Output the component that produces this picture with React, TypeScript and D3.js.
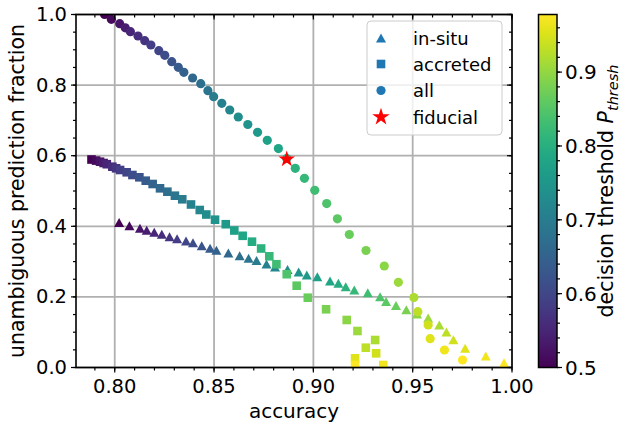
import React from 'react';
import * as d3 from 'd3';

// decision thresholds (shared by all three series)
const thresholds = [0.500, 0.512, 0.525, 0.537, 0.549, 0.562, 0.574, 0.586, 0.598, 0.611,
  0.623, 0.635, 0.648, 0.660, 0.672, 0.685, 0.697, 0.709, 0.722, 0.734,
  0.746, 0.758, 0.771, 0.783, 0.795, 0.808, 0.820, 0.832, 0.845, 0.857,
  0.869, 0.882, 0.894, 0.906, 0.918, 0.931, 0.943, 0.955, 0.968, 0.980];

const insituAcc = [0.8022, 0.8074, 0.8127, 0.8161, 0.8199, 0.8237, 0.8276, 0.8314, 0.8359, 0.8394,
  0.8438, 0.8480, 0.8512, 0.8572, 0.8629, 0.8674, 0.8714, 0.8764, 0.8807, 0.8870,
  0.8926, 0.8967, 0.9020, 0.9084, 0.9126, 0.9163, 0.9206, 0.9274, 0.9336, 0.9366,
  0.9416, 0.9468, 0.9522, 0.9578, 0.9634, 0.9670, 0.9705, 0.9764, 0.9868, 0.9960];
const insituFrac = [0.4108, 0.4017, 0.3943, 0.3887, 0.3830, 0.3773, 0.3705, 0.3646, 0.3584, 0.3533,
  0.3448, 0.3377, 0.3320, 0.3244, 0.3164, 0.3093, 0.3031, 0.2932, 0.2847, 0.2776,
  0.2705, 0.2620, 0.2572, 0.2450, 0.2385, 0.2289, 0.2195, 0.2119, 0.2006, 0.1870,
  0.1756, 0.1637, 0.1516, 0.1402, 0.1204, 0.1006, 0.0788, 0.0544, 0.0326, 0.0136];

const accretedAcc = [0.7883, 0.7906, 0.7926, 0.7944, 0.7960, 0.7988, 0.8007, 0.8027, 0.8060, 0.8089,
  0.8124, 0.8156, 0.8191, 0.8228, 0.8265, 0.8303, 0.8340, 0.8384, 0.8428, 0.8461,
  0.8505, 0.8559, 0.8602, 0.8644, 0.8691, 0.8737, 0.8778, 0.8814, 0.8866, 0.8916,
  0.8972, 0.9064, 0.9168, 0.9222, 0.9311, 0.9264, 0.9316, 0.9210, 0.9352, 0.9210];
const accretedFrac = [0.5892, 0.5861, 0.5830, 0.5793, 0.5759, 0.5688, 0.5643, 0.5595, 0.5530, 0.5453,
  0.5388, 0.5292, 0.5198, 0.5076, 0.4980, 0.4867, 0.4765, 0.4618, 0.4462, 0.4334,
  0.4187, 0.4059, 0.3881, 0.3731, 0.3564, 0.3371, 0.3150, 0.2926, 0.2643, 0.2317,
  0.1977, 0.1649, 0.1346, 0.1034, 0.0779, 0.0561, 0.0402, 0.0261, 0.0071, 0.0071];

const allAcc = [0.7949, 0.7983, 0.8025, 0.8053, 0.8079, 0.8117, 0.8151, 0.8182, 0.8222, 0.8252,
  0.8287, 0.8320, 0.8348, 0.8392, 0.8433, 0.8469, 0.8498, 0.8539, 0.8579, 0.8622,
  0.8670, 0.8719, 0.8768, 0.8824, 0.8866, 0.8909, 0.8955, 0.9007, 0.9067, 0.9121,
  0.9181, 0.9265, 0.9357, 0.9428, 0.9506, 0.9526, 0.9578, 0.9588, 0.9660, 0.9751];
const allFrac = [1.0000, 0.9864, 0.9739, 0.9623, 0.9513, 0.9391, 0.9258, 0.9136, 0.8975, 0.8844,
  0.8663, 0.8504, 0.8363, 0.8201, 0.8040, 0.7841, 0.7671, 0.7484, 0.7295, 0.7096,
  0.6884, 0.6663, 0.6436, 0.6201, 0.5921, 0.5643, 0.5360, 0.5020, 0.4643, 0.4212,
  0.3768, 0.3314, 0.2875, 0.2414, 0.1983, 0.1581, 0.1204, 0.0816, 0.0496, 0.0212];

const fiducialAcc = [0.8866];
const fiducialFrac = [0.590];

const xTicks = [0.80, 0.85, 0.90, 0.95, 1.00];
const yTicks = [0.0, 0.2, 0.4, 0.6, 0.8, 1.0];
const cTicks = [0.5, 0.6, 0.7, 0.8, 0.9];
const legendLabels = ['in-situ', 'accreted', 'all', 'fiducial'];

const W = 624, H = 427;
const L = 76, R = 512, T = 14.5, B = 367.5;
const CB = { x: 538.5, w: 18.5 };
const FONT = 'DejaVu Sans';

export default function App() {
  const x = d3.scaleLinear().domain([0.7805, 1.0]).range([L, R]);
  const y = d3.scaleLinear().domain([0, 1]).range([B, T]);
  const cmin = 0.5, cmax = 0.978;
  const color = (t: number) => d3.interpolateViridis((t - cmin) / (cmax - cmin));
  const cy = d3.scaleLinear().domain([cmin, cmax]).range([B, T]);

  const xMinor = d3.range(0.79, 1.0001, 0.01).filter(v => v >= 0.7805);
  const yMinor = d3.range(0, 1.0001, 0.05);
  const cMinor = d3.range(0.5, cmax + 1e-9, 0.02);

  const tri = (w: number, h: number) => `M0,${-h / 2}L${w / 2},${h / 2}L${-w / 2},${h / 2}Z`;
  const star = d3.symbol().type(d3.symbolStar).size(85)();
  const starLeg = d3.symbol().type(d3.symbolStar).size(95)();

  const stops = d3.range(0, 1.0001, 0.05);
  const gridC = '#b0b0b0';

  return (
    <svg width={W} height={H} style={{ position: 'absolute', left: 0, top: 0, background: '#fff' }}
      fontFamily={FONT}>
      <defs>
        <clipPath id="plotclip"><rect x={L} y={T} width={R - L} height={B - T} /></clipPath>
        <linearGradient id="viridis" x1="0" y1="1" x2="0" y2="0">
          {stops.map(s => <stop key={s} offset={s} stopColor={d3.interpolateViridis(s)} />)}
        </linearGradient>
      </defs>
      <rect x={0} y={0} width={W} height={H} fill="#fff" />
      {/* grid */}
      <g stroke={gridC} strokeWidth={1.8}>
        {xTicks.map(v => <line key={'gx' + v} x1={x(v)} x2={x(v)} y1={T} y2={B} />)}
        {yTicks.map(v => <line key={'gy' + v} x1={L} x2={R} y1={y(v)} y2={y(v)} />)}
      </g>
      {/* data */}
      <g clipPath="url(#plotclip)">
        {insituAcc.map((a, i) => (
          <path key={'t' + i} d={tri(10, 9)} transform={`translate(${x(a)},${y(insituFrac[i])})`}
            fill={color(thresholds[i])} />
        ))}
        {accretedAcc.map((a, i) => (
          <rect key={'s' + i} x={x(a) - 4.3} y={y(accretedFrac[i]) - 4.3} width={8.6} height={8.6}
            fill={color(thresholds[i])} />
        ))}
        {allAcc.map((a, i) => (
          <circle key={'c' + i} cx={x(a)} cy={y(allFrac[i])} r={4.6} fill={color(thresholds[i])} />
        ))}
        {fiducialAcc.map((a, i) => (
          <path key={'f' + i} d={star as string} transform={`translate(${x(a)},${y(fiducialFrac[i])})`} fill="#ff0000" />
        ))}
      </g>
      {/* spines */}
      <rect x={L} y={T} width={R - L} height={B - T} fill="none" stroke="#000" strokeWidth={1.6} />
      {/* ticks */}
      <g stroke="#000" strokeWidth={1.2}>
        {xTicks.map(v => <g key={'xt' + v}>
          <line x1={x(v)} x2={x(v)} y1={B} y2={B + 5} />
          <line x1={x(v)} x2={x(v)} y1={T} y2={T + 5} />
        </g>)}
        {xMinor.map(v => <g key={'xm' + v}>
          <line x1={x(v)} x2={x(v)} y1={B} y2={B + 3} />
          <line x1={x(v)} x2={x(v)} y1={T} y2={T + 3} />
        </g>)}
        {yTicks.map(v => <g key={'yt' + v}>
          <line x1={L - 5} x2={L} y1={y(v)} y2={y(v)} />
          <line x1={R - 5} x2={R} y1={y(v)} y2={y(v)} />
        </g>)}
        {yMinor.map(v => <g key={'ym' + v}>
          <line x1={L - 3} x2={L} y1={y(v)} y2={y(v)} />
          <line x1={R - 3} x2={R} y1={y(v)} y2={y(v)} />
        </g>)}
      </g>
      <g fontSize={19.5} fill="#000">
        {xTicks.map(v => <text key={'xl' + v} x={x(v)} y={B + 25.5} textAnchor="middle">{v.toFixed(2)}</text>)}
        {yTicks.map(v => <text key={'yl' + v} x={L - 9} y={y(v)} textAnchor="end" dominantBaseline="central">{v.toFixed(1)}</text>)}
      </g>
      <text x={(L + R) / 2} y={417.5} fontSize={20} textAnchor="middle">accuracy</text>
      <text transform={`translate(24,${(T + B) / 2}) rotate(-90)`} fontSize={20.5} textAnchor="middle">unambiguous prediction fraction</text>

      {/* legend */}
      <rect x={367} y={21} width={135} height={114} rx={4} fill="#fff" fillOpacity={0.8} stroke="#cccccc" strokeWidth={1} />
      <g fontSize={18}>
        <path d={tri(10, 9)} transform="translate(381,38)" fill="#1f77b4" />
        <rect x={381 - 4.3} y={64 - 4.3} width={8.6} height={8.6} fill="#1f77b4" />
        <circle cx={381} cy={90.5} r={4.6} fill="#1f77b4" />
        <path d={starLeg as string} transform="translate(381,117)" fill="#ff0000" />
        {legendLabels.map((lab, i) => (
          <text key={lab} x={413} y={38 + i * 26.4} dominantBaseline="central">{lab}</text>
        ))}
      </g>

      {/* colorbar */}
      <rect x={CB.x} y={T} width={CB.w} height={B - T} fill="url(#viridis)" stroke="#000" strokeWidth={1.5} />
      <g stroke="#000" strokeWidth={1.2}>
        {cTicks.map(v => <line key={'ct' + v} x1={CB.x + CB.w} x2={CB.x + CB.w + 5} y1={cy(v)} y2={cy(v)} />)}
        {cMinor.map(v => <line key={'cm' + v} x1={CB.x + CB.w} x2={CB.x + CB.w + 3} y1={cy(v)} y2={cy(v)} />)}
      </g>
      <g fontSize={20}>
        {cTicks.map(v => <text key={'cl' + v} x={CB.x + CB.w + 8} y={cy(v)} dominantBaseline="central">{v.toFixed(1)}</text>)}
      </g>
      <text transform={`translate(613,${(T + B) / 2}) rotate(-90)`} fontSize={20.5} textAnchor="middle">
        decision threshold <tspan fontStyle="italic">P</tspan><tspan fontStyle="italic" fontSize={14.5} dy={5}>thresh</tspan>
      </text>
    </svg>
  );
}
